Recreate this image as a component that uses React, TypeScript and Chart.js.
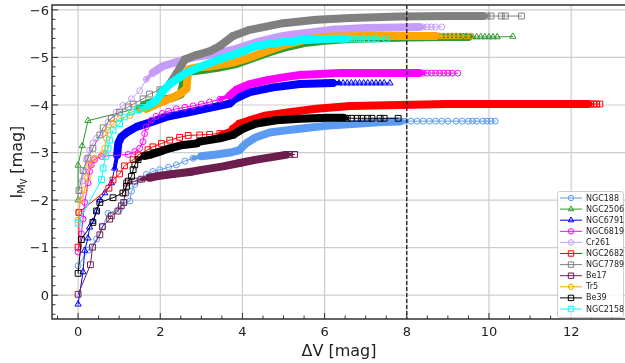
import React, { useEffect, useRef } from 'react';
import { Chart, registerables } from 'chart.js';

Chart.register(...registerables);

type P = [number, number];

// ---------- data (ΔV, I_Mv) ----------
const NGC188: P[] = [
  [0, -0.62], [0.25, -0.95], [0.45, -1.18], [0.6, -1.45], [0.73, -1.72], [1.01, -1.81], [1.13, -1.95],
  [1.26, -1.98], [1.3, -2.19], [1.38, -2.33], [1.5, -2.43], [1.66, -2.54], [1.82, -2.6], [1.99, -2.64],
  [2.2, -2.69], [2.39, -2.74], [2.6, -2.82], [2.8, -2.88], [3.0, -2.92], [3.37, -2.96], [3.7, -3.0],
  [3.93, -3.05], [4.0, -3.12], [4.1, -3.2], [4.3, -3.31], [4.66, -3.42], [5.0, -3.46], [5.4, -3.5],
  [5.8, -3.54], [6.1, -3.57], [6.86, -3.61], [7.4, -3.64], [7.83, -3.65],
  [7.95, -3.66], [8.1, -3.66], [8.25, -3.66], [8.4, -3.66], [8.55, -3.66], [8.7, -3.66], [8.85, -3.66],
  [9.0, -3.66], [9.2, -3.66], [9.35, -3.66], [9.5, -3.66], [9.6, -3.66], [9.7, -3.66], [9.85, -3.66],
  [9.95, -3.66], [10.05, -3.66], [10.15, -3.66],
];
const NGC2506: P[] = [
  [0, -2.0], [0, -2.73], [0.1, -3.14], [0.24, -3.67], [1.45, -3.93], [1.6, -4.0], [1.75, -4.05],
  [2.0, -4.1], [2.3, -4.15], [2.5, -4.22], [2.58, -4.55], [2.68, -4.7], [3.0, -4.73], [3.4, -4.78],
  [3.85, -4.86], [4.3, -5.0], [4.7, -5.12], [5.0, -5.2], [5.5, -5.3], [6.0, -5.35], [6.5, -5.38],
  [7.0, -5.4], [8.0, -5.42], [9.0, -5.43], [9.5, -5.43],
  [9.6, -5.43], [9.7, -5.43], [9.8, -5.43], [9.9, -5.43], [10.0, -5.43], [10.1, -5.43], [10.2, -5.43],
  [10.58, -5.44],
];
const NGC6791: P[] = [
  [0.0, 0.19], [0.12, -0.49], [0.16, -0.94], [0.24, -1.2], [0.28, -1.43], [0.36, -1.55], [0.45, -1.77],
  [0.53, -2.0], [0.65, -2.15], [0.81, -2.36], [0.89, -2.67], [0.95, -2.95], [0.98, -3.2], [1.05, -3.33],
  [1.18, -3.42], [1.42, -3.54], [1.74, -3.63], [2.15, -3.75], [2.72, -3.85], [3.2, -3.94], [3.69, -4.03],
  [3.8, -4.12], [4.0, -4.2], [4.18, -4.27], [4.75, -4.37], [5.4, -4.44], [6.2, -4.46],
  [6.35, -4.46], [6.45, -4.46], [6.55, -4.46], [6.65, -4.46], [6.75, -4.46], [6.85, -4.46], [6.95, -4.46],
  [7.05, -4.46], [7.15, -4.46], [7.25, -4.46], [7.35, -4.46], [7.45, -4.46], [7.59, -4.46],
];
const NGC6819: P[] = [
  [0, -0.91], [0.08, -1.29], [0.12, -1.6], [0.16, -1.95], [0.24, -2.36], [0.28, -2.6], [0.32, -2.74],
  [0.4, -2.85], [0.57, -2.92], [1.22, -2.96], [1.38, -3.02], [1.5, -3.09], [1.58, -3.23], [1.62, -3.4],
  [1.66, -3.54], [1.78, -3.68], [1.9, -3.76], [2.05, -3.82], [2.2, -3.87], [2.39, -3.92], [2.6, -3.95],
  [2.8, -3.98], [3.0, -4.02], [3.2, -4.06], [3.45, -4.12], [3.69, -4.2], [3.85, -4.32], [4.18, -4.44],
  [4.6, -4.52], [4.99, -4.58], [5.4, -4.63], [6.37, -4.67], [7.5, -4.67], [8.3, -4.67],
  [8.4, -4.67], [8.5, -4.67], [8.6, -4.67], [8.7, -4.67], [8.8, -4.67], [8.9, -4.67], [9.0, -4.67],
  [9.1, -4.67], [9.24, -4.67],
];
const Cr261: P[] = [
  [0.02, -1.75], [0.06, -2.1], [0.1, -2.4], [0.14, -2.6], [0.2, -2.85], [0.28, -3.05], [0.36, -3.2],
  [0.45, -3.3], [0.61, -3.4], [0.73, -3.64], [0.93, -3.85], [1.09, -3.99], [1.3, -4.13], [1.5, -4.3],
  [1.66, -4.54], [1.82, -4.68], [2.07, -4.82], [2.39, -4.9], [2.8, -5.0], [3.37, -5.08], [3.85, -5.18],
  [4.34, -5.32], [4.99, -5.45], [5.4, -5.5], [6.2, -5.58], [7.02, -5.62], [7.83, -5.63], [8.3, -5.64],
  [8.4, -5.64], [8.5, -5.64], [8.6, -5.64], [8.7, -5.64], [8.85, -5.64],
];
const NGC2682: P[] = [
  [0, -1.01], [0.02, -1.74], [0.75, -2.25], [0.85, -2.42], [1.01, -2.55], [1.13, -2.72], [1.34, -2.85],
  [1.46, -2.95], [1.7, -3.06], [1.82, -3.12], [2.03, -3.19], [2.23, -3.26], [2.47, -3.32], [2.68, -3.36],
  [2.96, -3.37], [3.2, -3.38], [3.45, -3.4], [3.77, -3.5], [3.93, -3.61], [4.18, -3.68], [4.58, -3.78],
  [5.15, -3.85], [5.8, -3.92], [6.62, -3.98], [7.83, -4.0], [9.0, -4.02], [10.5, -4.02], [12.4, -4.02],
  [12.48, -4.02], [12.55, -4.02], [12.62, -4.02], [12.7, -4.02],
];
const NGC7789: P[] = [
  [0.02, -2.2], [0.12, -2.62], [0.24, -2.88], [0.36, -3.09], [0.53, -3.37], [0.61, -3.52], [0.81, -3.72],
  [1.01, -3.85], [1.22, -3.96], [1.34, -4.02], [1.58, -4.13], [1.74, -4.23], [1.99, -4.32], [2.23, -4.44],
  [2.39, -4.65], [2.6, -4.96], [2.88, -5.05], [3.2, -5.13], [3.45, -5.24], [3.77, -5.45], [4.18, -5.58],
  [4.99, -5.72], [5.8, -5.79], [6.62, -5.83], [7.83, -5.86], [9.0, -5.87], [9.85, -5.87],
  [9.95, -5.87], [10.05, -5.87], [10.3, -5.87], [10.4, -5.87], [10.79, -5.87],
];
const Be17: P[] = [
  [0, -0.02], [0.3, -0.64], [0.35, -1.01], [0.53, -1.27], [0.59, -1.44], [0.77, -1.6], [0.81, -1.67],
  [0.97, -1.77], [1.05, -1.88], [1.11, -1.95], [1.15, -2.15], [1.18, -2.36], [1.38, -2.4], [1.55, -2.44],
  [1.74, -2.47], [1.91, -2.5], [2.31, -2.55], [2.72, -2.59], [3.04, -2.64], [3.53, -2.71], [3.93, -2.78],
  [4.34, -2.85], [4.83, -2.92], [5.05, -2.95], [5.15, -2.96], [5.27, -2.96],
];
const Tr5: P[] = [
  [0, -1.58], [0.06, -2.0], [0.16, -2.22], [0.23, -2.47], [0.28, -2.74], [0.4, -2.88], [0.61, -2.98],
  [0.65, -3.09], [0.69, -3.3], [0.73, -3.47], [0.85, -3.61], [1.01, -3.71], [1.26, -3.78], [1.5, -3.89],
  [1.66, -3.92], [1.91, -4.02], [2.23, -4.13], [2.47, -4.23], [2.64, -4.34], [2.68, -4.75], [2.88, -4.79],
  [3.2, -4.81], [3.77, -4.89], [4.18, -5.0], [4.58, -5.13], [5.07, -5.27], [5.56, -5.38], [6.2, -5.44],
  [7.02, -5.45], [8.24, -5.45], [8.7, -5.45],
  [8.8, -5.45], [8.9, -5.45], [9.0, -5.45], [9.1, -5.45], [9.2, -5.45], [9.3, -5.45], [9.45, -5.45],
  [9.55, -5.45],
];
const Be39: P[] = [
  [0, -0.46], [0.08, -1.17], [0.36, -1.53], [0.45, -1.77], [0.53, -1.95], [0.85, -2.05], [1.09, -2.15],
  [1.18, -2.29], [1.22, -2.4], [1.3, -2.5], [1.34, -2.64], [1.38, -2.74], [1.46, -2.85], [1.62, -2.93],
  [1.74, -2.95], [1.99, -3.02], [2.23, -3.09], [2.55, -3.16], [2.88, -3.19], [2.96, -3.23], [3.45, -3.3],
  [3.77, -3.37], [4.01, -3.5], [4.34, -3.61], [4.83, -3.68], [5.4, -3.71], [6.05, -3.73], [6.45, -3.73],
  [6.55, -3.72], [6.65, -3.72], [6.8, -3.72], [6.9, -3.72], [7.05, -3.72], [7.15, -3.72], [7.35, -3.72],
  [7.45, -3.72], [7.79, -3.72],
];
const NGC2158: P[] = [
  [0, -1.52], [0.57, -2.43], [0.61, -2.67], [0.67, -2.92], [0.73, -3.09], [0.77, -3.26], [0.85, -3.47],
  [1.01, -3.61], [1.13, -3.75], [1.3, -3.85], [1.46, -3.9], [1.6, -3.95], [1.74, -4.0], [1.91, -4.1],
  [2.07, -4.3], [2.23, -4.44], [2.47, -4.58], [2.64, -4.68], [2.96, -4.8], [3.45, -4.96], [3.93, -5.1],
  [4.34, -5.24], [4.83, -5.31], [5.4, -5.36], [6.2, -5.39], [6.5, -5.39],
  [6.6, -5.39], [6.7, -5.39], [6.8, -5.39], [6.9, -5.39], [7.0, -5.39], [7.15, -5.39], [7.25, -5.39],
  [7.5, -5.39],
];

const SERIES_NAMES = ['NGC188', 'NGC2506', 'NGC6791', 'NGC6819', 'Cr261', 'NGC2682', 'NGC7789', 'Be17', 'Tr5', 'Be39', 'NGC2158'];
const SERIES_DATA: P[][] = [NGC188, NGC2506, NGC6791, NGC6819, Cr261, NGC2682, NGC7789, Be17, Tr5, Be39, NGC2158];
// ΔV range in which the markers are packed so densely that they merge into a solid band
const DENSE_RANGE: P[] = [
  [3.0, 7.83], [1.6, 9.5], [0.93, 6.2], [3.6, 8.3], [1.8, 8.3], [3.7, 12.4],
  [2.2, 9.85], [1.7, 5.05], [1.6, 8.7], [1.5, 6.45], [1.7, 6.5],
];

const X_TICKS = [0, 2, 4, 6, 8, 10, 12];
const Y_TICKS = [-6, -5, -4, -3, -2, -1, 0];
const REF_X = 8;

// ---------- styles ----------
const COLORS = ['#5b9bf2', '#2f9a2f', '#0000ff', '#ff00ff', '#c59cf7', '#ff0000', '#808080', '#6c1f4f', '#ffa500', '#000000', '#00ffff'];
const MARKERS = ['circle', 'triangle', 'triangle', 'circle', 'circle', 'rect', 'rect', 'rect', 'circle', 'rect', 'rect'];
const MARKER_R: Record<string, number> = { circle: 3, triangle: 3.6, rect: 4.1 };
const FONT = '"DejaVu Sans", sans-serif';
const BAND_W = 8;

function legendMarker(ctx: CanvasRenderingContext2D, kind: string, x: number, y: number) {
  ctx.beginPath();
  if (kind === 'circle') {
    ctx.arc(x, y, 2.7, 0, Math.PI * 2);
  } else if (kind === 'triangle') {
    const r = 3.2;
    ctx.moveTo(x, y - r);
    ctx.lineTo(x + 0.866 * r, y + 0.5 * r);
    ctx.lineTo(x - 0.866 * r, y + 0.5 * r);
    ctx.closePath();
  } else {
    ctx.rect(x - 2.7, y - 2.7, 5.4, 5.4);
  }
  ctx.stroke();
}

const fmt = (v: number) => (v < 0 ? '\u2212' + Math.abs(v) : String(v));

const axesPlugin = {
  id: 'mplAxes',
  beforeDatasetsDraw(chart: any) {
    const { ctx, chartArea: a, scales } = chart;
    const xs = scales.x, ys = scales.y;
    ctx.save();
    ctx.strokeStyle = '#cdcdcd';
    ctx.lineWidth = 1.2;
    ctx.beginPath();
    for (const t of X_TICKS) {
      const px = xs.getPixelForValue(t);
      ctx.moveTo(px, a.top); ctx.lineTo(px, a.bottom);
    }
    for (const t of Y_TICKS) {
      const py = ys.getPixelForValue(t);
      ctx.moveTo(a.left, py); ctx.lineTo(a.right, py);
    }
    ctx.stroke();
    ctx.restore();
  },
  afterDatasetsDraw(chart: any) {
    const { ctx, chartArea: a, scales } = chart;
    const xs = scales.x, ys = scales.y;
    ctx.save();
    // reference line
    const rx = xs.getPixelForValue(REF_X);
    ctx.strokeStyle = '#111';
    ctx.lineWidth = 1.2;
    ctx.setLineDash([4, 2]);
    ctx.beginPath(); ctx.moveTo(rx, a.top); ctx.lineTo(rx, a.bottom); ctx.stroke();
    ctx.setLineDash([]);

    // spines
    ctx.strokeStyle = '#333';
    ctx.lineWidth = 1.5;
    ctx.beginPath();
    ctx.moveTo(a.right, a.top); ctx.lineTo(a.left, a.top); ctx.lineTo(a.left, a.bottom); ctx.lineTo(a.right, a.bottom);
    ctx.stroke();

    // ticks (inward)
    ctx.lineWidth = 1;
    ctx.beginPath();
    for (let k = -1; k <= 26; k++) {
      const v = k * 0.5;
      const px = xs.getPixelForValue(v);
      if (px < a.left + 1 || px > a.right) continue;
      const len = k % 4 === 0 ? 6 : 3.5;
      ctx.moveTo(px, a.bottom); ctx.lineTo(px, a.bottom - len);
    }
    for (let k = -30; k <= 2; k++) {
      const v = k * 0.2;
      const py = ys.getPixelForValue(v);
      if (py < a.top + 1 || py > a.bottom - 1) continue;
      const len = k % 5 === 0 ? 6 : 3.5;
      ctx.moveTo(a.left, py); ctx.lineTo(a.left + len, py);
    }
    ctx.stroke();

    // tick labels
    ctx.fillStyle = '#222';
    ctx.font = `13px ${FONT}`;
    ctx.textAlign = 'center';
    ctx.textBaseline = 'alphabetic';
    for (const t of X_TICKS) ctx.fillText(fmt(t), xs.getPixelForValue(t), a.bottom + 17);
    ctx.textAlign = 'right';
    for (const t of Y_TICKS) ctx.fillText(fmt(t), a.left - 3, ys.getPixelForValue(t) + 4.7);

    // axis titles
    ctx.font = `16px ${FONT}`;
    ctx.textAlign = 'center';
    ctx.fillText('\u0394V [mag]', (a.left + a.right) / 2, 356);

    ctx.save();
    ctx.translate(16, (a.top + a.bottom) / 2);
    ctx.rotate(-Math.PI / 2);
    ctx.textAlign = 'left';
    const parts: [string, string, number][] = [
      ['I', `16px ${FONT}`, 0],
      ['M', `11px ${FONT}`, 3],
      ['V', `8px ${FONT}`, 5],
      [' [mag]', `16px ${FONT}`, 0],
    ];
    let total = 0;
    const widths = parts.map(([t, f]) => { ctx.font = f; const w = ctx.measureText(t).width; total += w; return w; });
    let cx = -total / 2;
    parts.forEach(([t, f, dy], i) => { ctx.font = f; ctx.fillText(t, cx, 5.8 + dy); cx += widths[i]; });
    ctx.restore();

    // legend
    const lx0 = 557, ly0 = 191, lw = 66, lh = 126;
    ctx.fillStyle = 'rgba(255,255,255,0.85)';
    ctx.strokeStyle = '#cccccc';
    ctx.lineWidth = 1;
    ctx.beginPath();
    ctx.roundRect(lx0 + 0.5, ly0 + 0.5, lw, lh, 2);
    ctx.fill(); ctx.stroke();
    ctx.font = `8px ${FONT}`;
    ctx.textAlign = 'left';
    ctx.textBaseline = 'middle';
    SERIES_NAMES.forEach((name, i) => {
      const yy = ly0 + 7 + i * 11.1;
      ctx.strokeStyle = COLORS[i];
      ctx.lineWidth = 1;
      ctx.beginPath(); ctx.moveTo(560, yy); ctx.lineTo(582, yy); ctx.stroke();
      legendMarker(ctx, MARKERS[i], 571, yy);
      ctx.fillStyle = '#222';
      ctx.fillText(name, 586, yy + 0.5);
    });
    ctx.restore();
  },
};

export default function App() {
  const ref = useRef<HTMLCanvasElement | null>(null);
  useEffect(() => {
    if (!ref.current) return;
    const n = SERIES_NAMES.length;
    const datasets = SERIES_NAMES.map((name, i) => {
      const band = DENSE_RANGE[i];
      const inBand = (x: number) => x >= band[0] - 1e-6 && x <= band[1] + 1e-6;
      return {
        label: name,
        data: SERIES_DATA[i].map(([x, y]) => ({ x, y })),
        borderColor: COLORS[i],
        backgroundColor: 'rgba(0,0,0,0)',
        borderWidth: 1,
        borderJoinStyle: 'round' as const,
        borderCapStyle: 'round' as const,
        pointStyle: MARKERS[i] as any,
        pointRadius: MARKER_R[MARKERS[i]],
        pointBorderWidth: 1,
        pointBorderColor: COLORS[i],
        pointBackgroundColor: 'rgba(0,0,0,0)',
        tension: 0,
        order: n - i,
        segment: {
          borderWidth: (c: any) => {
            const a = inBand(c.p0.parsed.x), b = inBand(c.p1.parsed.x);
            if (a && b) return BAND_W;
            if (a || b) return BAND_W / 2;
            return 1;
          },
        },
      };
    });
    const chart = new Chart(ref.current, {
      type: 'line',
      data: { datasets },
      options: {
        animation: false,
        responsive: false,
        devicePixelRatio: 1,
        layout: { padding: { left: 52, top: 2, right: 14, bottom: 44 } },
        scales: {
          x: { type: 'linear', min: -0.635, max: 13.335, display: false },
          y: { type: 'linear', min: -6.1, max: 0.5, reverse: true, display: false },
        },
        plugins: { legend: { display: false }, tooltip: { enabled: false } },
        elements: { line: { fill: false } },
      },
      plugins: [axesPlugin],
    });
    return () => chart.destroy();
  }, []);
  return (
    <div style={{ position: 'absolute', left: 0, top: 0, width: 625, height: 363, overflow: 'hidden', background: '#fff' }}>
      <canvas ref={ref} width={640} height={363} style={{ width: 640, height: 363, display: 'block' }} />
    </div>
  );
}
